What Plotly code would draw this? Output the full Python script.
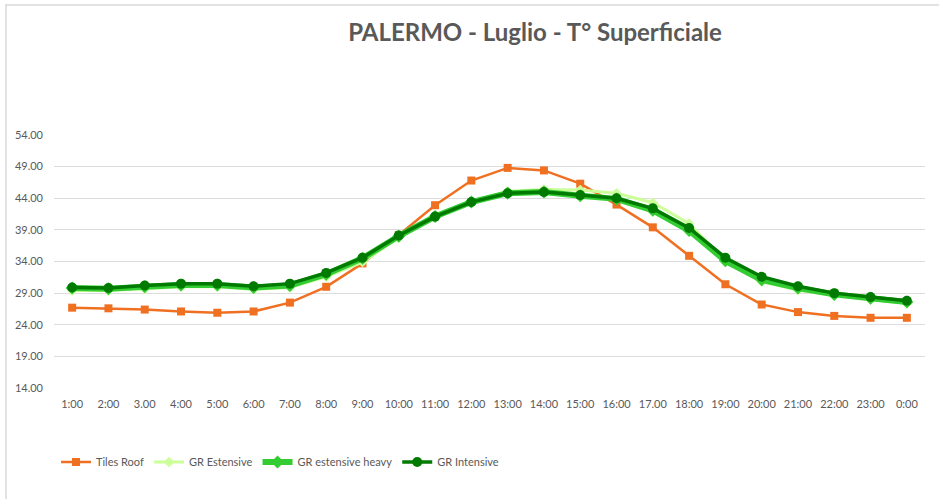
import plotly.graph_objects as go

hours = ["1:00", "2:00", "3.00", "4:00", "5:00", "6:00", "7:00", "8:00", "9:00", "10:00",
         "11:00", "12:00", "13:00", "14:00", "15:00", "16:00", "17.00", "18:00", "19:00",
         "20:00", "21:00", "22:00", "23:00", "0:00"]

tiles_roof = [26.7, 26.6, 26.4, 26.1, 25.9, 26.1, 27.5, 30.0, 33.7, 38.2, 42.9, 46.8,
              48.8, 48.4, 46.3, 43.0, 39.4, 34.9, 30.4, 27.2, 26.0, 25.4, 25.1, 25.1]
gr_estensive = [29.4, 29.4, 29.7, 30.0, 30.0, 29.6, 29.9, 31.6, 33.9, 37.8, 41.0, 43.5,
                45.1, 45.4, 45.3, 44.8, 43.3, 40.0, 34.0, 30.8, 29.5, 28.6, 28.0, 27.4]
gr_estensive_heavy = [29.8, 29.7, 30.0, 30.3, 30.3, 29.9, 30.2, 32.0, 34.5, 38.0, 41.1, 43.4,
                      44.8, 45.0, 44.4, 43.9, 42.1, 38.9, 34.1, 31.1, 29.8, 28.8, 28.2, 27.6]
gr_intensive = [29.9, 29.8, 30.2, 30.5, 30.5, 30.1, 30.5, 32.2, 34.6, 38.1, 41.1, 43.4,
                44.8, 45.0, 44.5, 44.0, 42.4, 39.3, 34.6, 31.6, 30.1, 29.0, 28.4, 27.8]

y_ticks = [14, 19, 24, 29, 34, 39, 44, 49, 54]

FONT = "Lato"
GRAY = "#595959"

fig = go.Figure()
fig.add_trace(go.Scatter(x=hours, y=tiles_roof, name="Tiles Roof", mode="lines+markers",
                         line=dict(color="#F07022", width=2.5),
                         marker=dict(symbol="square", size=8, color="#F07022")))
fig.add_trace(go.Scatter(x=hours, y=gr_estensive, name="GR Estensive", mode="lines+markers",
                         line=dict(color="#CCFF99", width=3),
                         marker=dict(symbol="diamond", size=8, color="#CCFF99")))
fig.add_trace(go.Scatter(x=hours, y=gr_estensive_heavy, name="GR estensive heavy", mode="lines+markers",
                         line=dict(color="#33CC33", width=6),
                         marker=dict(symbol="diamond", size=10, color="#33CC33")))
fig.add_trace(go.Scatter(x=hours, y=gr_intensive, name="GR Intensive", mode="lines+markers",
                         line=dict(color="#007A00", width=3.5),
                         marker=dict(symbol="circle", size=10, color="#007A00")))

W, H = 939, 499
L, R, T, B = 54, 14, 135, 111
pw = W - L - R
ph = H - T - B

fig.update_layout(
    width=W, height=H,
    margin=dict(l=L, r=R, t=T, b=B),
    paper_bgcolor="white", plot_bgcolor="white",
    font=dict(family=FONT, color=GRAY, size=11),
    title=dict(text="<b>PALERMO - Luglio - T° Superficiale</b>",
               font=dict(family=FONT, size=24, color=GRAY),
               x=(535 - L) / pw, xref="paper", xanchor="center",
               y=(H - 33) / H, yref="container", yanchor="middle"),
    showlegend=True,
    legend=dict(orientation="h", x=(56 - L) / pw, xanchor="left",
                y=(T + ph - 462) / ph, yanchor="middle",
                font=dict(family=FONT, size=11, color=GRAY),
                entrywidth=0, itemwidth=30, bgcolor="rgba(0,0,0,0)"),
    xaxis=dict(type="category", showgrid=False, showline=False, zeroline=False,
               ticks="", ticklabelstandoff=8,
               tickfont=dict(family=FONT, size=11, color=GRAY),
               range=[-0.5, len(hours) - 0.5]),
    yaxis=dict(range=[14, 54], tickvals=y_ticks, tickformat=".2f",
               showgrid=True, gridcolor="#DDDDDD", gridwidth=1, zeroline=False,
               showline=False, ticks="", ticklabelstandoff=10,
               tickfont=dict(family=FONT, size=11, color=GRAY)),
)

# frame edges of the chart area (top and left)
fig.add_shape(type="line", xref="paper", yref="paper",
              x0=(5 - L) / pw, x1=(W - L) / pw, y0=(H - 5 - B) / ph, y1=(H - 5 - B) / ph,
              line=dict(color="#D9D9D9", width=1.5))
fig.add_shape(type="line", xref="paper", yref="paper",
              x0=(6 - L) / pw, x1=(6 - L) / pw, y0=(H - B - H) / ph, y1=(H - 5 - B) / ph,
              line=dict(color="#D9D9D9", width=1.5))

fig.write_html("out.html", config={"displayModeBar": False},
               post_script="document.body.style.margin='0';")
